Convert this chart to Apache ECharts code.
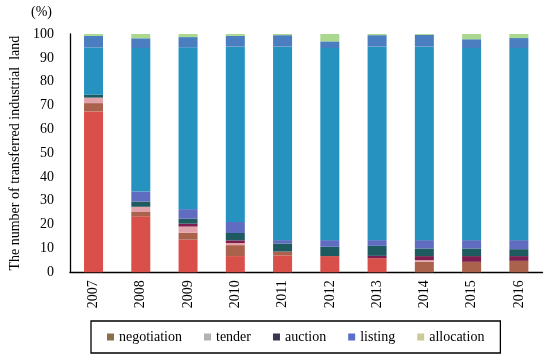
<!DOCTYPE html>
<html>
<head>
<meta charset="utf-8">
<script src="https://cdn.jsdelivr.net/npm/echarts@6/dist/echarts.min.js"></script>
<style>html,body{margin:0;padding:0;background:#fff}#c{width:550px;height:360px}</style>
</head>
<body>
<div id="c"></div>
<script>
// Categories
const years = ['2007','2008','2009','2010','2011','2012','2013','2014','2015','2016'];
const yTicks = [0,10,20,30,40,50,60,70,80,90,100];
// Visible colour bands of each stacked bar (%), bottom to top
const negotiationRed   = [67.5, 23.5, 13.7, 6.8, 7.1, 6.8, 5.9, 0, 0, 0];
const negotiationBrown = [3.5, 1.8, 2.9, 4.6, 1.6, 0, 0, 4.4, 4.4, 4.8];
const tender           = [2.3, 2.2, 2.6, 0.9, 0, 0, 0, 0.7, 0, 0];
const auctionMaroon    = [0, 0, 1.2, 1.1, 0, 0, 1.0, 1.7, 2.4, 2.0];
const auctionDark      = [1.2, 2.2, 2.1, 3.1, 3.4, 3.9, 4.2, 3.2, 3.2, 2.9];
const listingLow       = [0, 4.2, 4.0, 4.6, 1.4, 2.8, 2.4, 3.5, 3.5, 3.8];
const listingMid       = [19.8, 60.2, 67.9, 73.6, 81.2, 80.6, 81.2, 81.2, 80.6, 80.6];
const listingTop       = [4.9, 4.1, 4.3, 4.5, 4.8, 2.8, 4.8, 4.9, 3.7, 4.2];
const allocation       = [0.8, 1.8, 1.3, 0.8, 0.5, 3.1, 0.5, 0.4, 2.2, 1.7];
const legendNames = ['negotiation','tender','auction','listing','allocation'];

const FONT = "'Times New Roman', 'Liberation Serif', serif";
const chart = echarts.init(document.getElementById('c'), null, {renderer: 'canvas'});

function band(name, data, color) {
  return {
    name: name, type: 'bar', stack: 'total', barWidth: 19,
    data: data, itemStyle: {color: color}, emphasis: {disabled: true}
  };
}
const legendColors = ['#8a7048', '#b2b2b2', '#3a3450', '#5b6fc8', '#cccb98'];

chart.setOption({
  animation: false,
  grid: {left: 62, right: 7.5, top: 34, bottom: 87.7},
  legend: {
    data: legendNames.map((n, i) => ({name: n, icon: 'rect', itemStyle: {color: legendColors[i]}})),
    left: 91, top: 321,
    padding: [9, 16, 9, 16],
    borderColor: '#000', borderWidth: 1.3,
    itemWidth: 7, itemHeight: 7, itemGap: 22,
    selectedMode: false,
    textStyle: {fontFamily: FONT, fontSize: 14, color: '#000'}
  },
  xAxis: {
    type: 'category', data: years,
    axisLine: {lineStyle: {color: '#000', width: 1.3}},
    axisTick: {show: false},
    axisLabel: {rotate: 90, margin: 8, fontFamily: FONT, fontSize: 14, color: '#000'}
  },
  yAxis: {
    type: 'value', min: 0, max: 100, interval: 10,
    name: 'The number of transferred industrial  land',
    nameLocation: 'middle', nameGap: 43,
    nameTextStyle: {fontFamily: FONT, fontSize: 14, color: '#000'},
    axisLine: {show: true, lineStyle: {color: '#000', width: 1.3}},
    axisTick: {show: false},
    splitLine: {show: false},
    axisLabel: {margin: 16, fontFamily: FONT, fontSize: 14, color: '#000',
      formatter: v => yTicks.includes(v) ? String(v) : ''}
  },
  graphic: [{
    type: 'text', left: 31, top: 5,
    style: {text: '(%)', font: '14px ' + FONT, fill: '#000'}
  }],
  series: [
    band('negotiation', negotiationRed, '#d9504a'),
    band('negotiation upper', negotiationBrown, '#ab624c'),
    band('tender', tender, '#e2a2aa'),
    band('auction lower', auctionMaroon, '#7c1e50'),
    band('auction', auctionDark, '#1e5b60'),
    band('listing lower', listingLow, '#5f6cbf'),
    band('listing', listingMid, '#2592c0'),
    band('listing upper', listingTop, '#4a7ec0'),
    band('allocation', allocation, '#aad88e')
  ]
});
</script>
</body>
</html>
